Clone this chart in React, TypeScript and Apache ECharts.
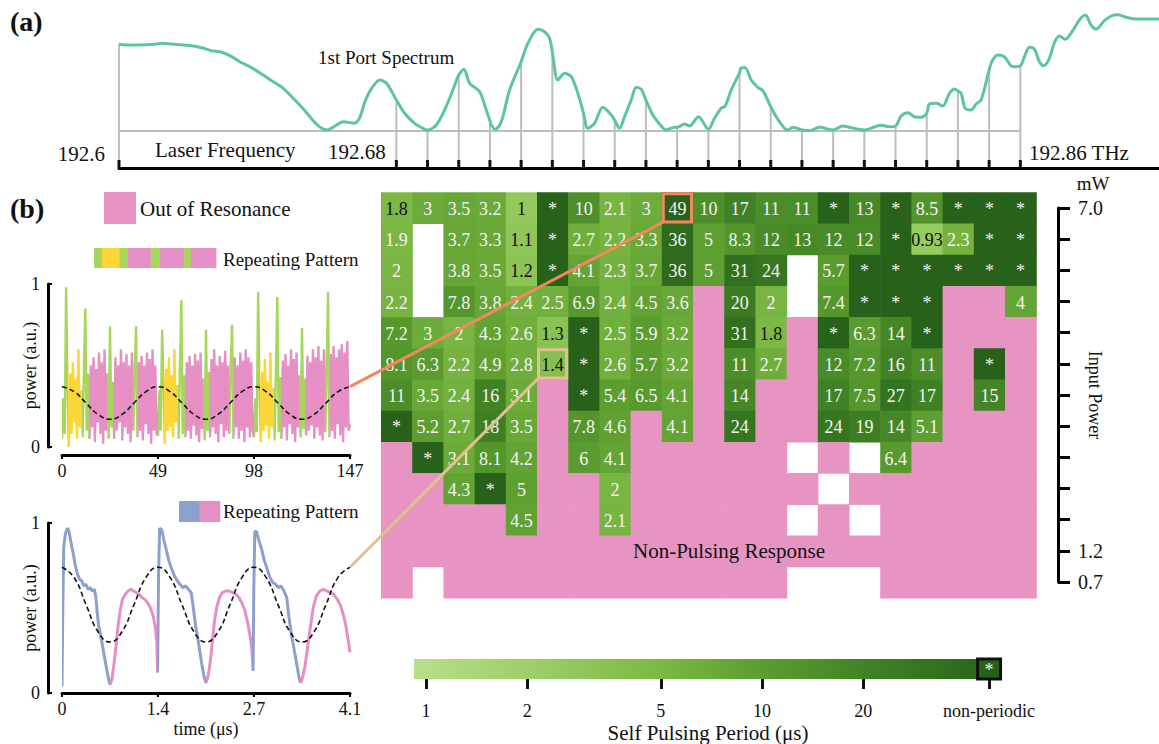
import React, { useEffect, useRef } from 'react';
import * as echarts from 'echarts';

const SERIF = 'Liberation Serif';

// palette
const GREEN = '#a6d65b';
const YELLOW = '#fdd535';
const PINK = '#e68fc4';
const BLUE = '#8c9fcd';
const NON_PULSING_COLOR = '#e794c3';
const NON_PERIODIC_COLOR = '#27611a';
const TEAL = '#5dc4a1';
const ORANGE = '#f4875f';
const TAN = '#e2c190';
const GRID_GRAY = '#bdbdbd';

// ---------- (a) first port spectrum ----------
const specFreq = [
  192.6, 192.60173, 192.60557, 192.61038, 192.61231, 192.61615, 192.62096, 192.62385, 192.62673, 192.62961,
  192.6325, 192.63538, 192.63777, 192.64115, 192.64403, 192.64738, 192.65075, 192.65363, 192.65603, 192.65845,
  192.66018, 192.66228, 192.66468, 192.66785, 192.66949, 192.67093, 192.67287, 192.67526, 192.67719, 192.68,
  192.68239, 192.68528, 192.68816, 192.689, 192.69153, 192.69393, 192.69632, 192.698, 192.69949, 192.70114,
  192.70402, 192.70595, 192.707, 192.70739, 192.70855, 192.71028, 192.71267, 192.716, 192.71795, 192.72083,
  192.72276, 192.7242, 192.725, 192.7266, 192.72853, 192.73046, 192.73236, 192.734, 192.73525, 192.73718,
  192.73957, 192.742, 192.743, 192.74439, 192.74583, 192.74776, 192.7492, 192.75065, 192.752, 192.75399,
  192.75592, 192.75785, 192.76025, 192.761, 192.76313, 192.76457, 192.76717, 192.77, 192.77178, 192.77371,
  192.77487, 192.7766, 192.779, 192.77948, 192.78063, 192.78236, 192.78427, 192.78571, 192.788, 192.79003,
  192.79197, 192.79292, 192.79436, 192.797, 192.79918, 192.80206, 192.806, 192.80878, 192.8112, 192.815,
  192.81985, 192.82225, 192.824, 192.82562, 192.82752, 192.82945, 192.83138, 192.833, 192.83378, 192.83571,
  192.83761, 192.83955, 192.84099, 192.842, 192.84292, 192.84407, 192.8458, 192.84724, 192.84869, 192.851,
  192.85186, 192.85347, 192.8554, 192.8578, 192.86, 192.86117, 192.86261, 192.86405, 192.8655, 192.86674,
  192.86838, 192.86982, 192.87126, 192.87291, 192.8751, 192.87703, 192.87876, 192.8804, 192.88185, 192.88424,
  192.88617, 192.88807, 192.89001, 192.8924, 192.89577, 192.9,
];
const specLevel = [
  8.7, 8.6, 8.6, 8.67, 8.77, 8.67, 8.53, 8.33, 8.03, 7.87,
  7.43, 6.83, 6.43, 5.7, 5.03, 4.27, 3.1, 2.03, 1.03, 0.27,
  0.1, 0.5, 0.93, 0.77, 1.37, 2.93, 4.27, 5.1, 4.77, 3.1,
  1.77, 0.77, 0.17, 0.1, 0.6, 2.1, 4.1, 5.6, 6.17, 4.77,
  3.93, 2.1, 1.02, 0.6, 0.17, 0.93, 4.1, 6.93, 8.77, 10.17,
  9.93, 9.27, 7.9, 5.1, 5.77, 5.43, 3.77, 1.77, 0.27, 0.77,
  2.37, 1.6, 1.07, 0.27, 1.43, 3.1, 4.37, 4.17, 3.1, 1.6,
  0.7, 0.1, 0.37, 0.37, 0.7, 0.5, 1.43, 0.17, 1.27, 2.27,
  2.5, 4.1, 5.83, 6.33, 6.33, 5.1, 4.37, 4.03, 2.43, 1.17,
  0.27, 0.1, 0.37, 0.1, 0.03, 0.37, 0.1, 0.5, 0.33, 0.1,
  0.57, 0.43, 0.5, 1.5, 1.83, 1.43, 1.37, 1.77, 2.7, 2.77,
  2.5, 3.77, 4.2, 4.0, 3.77, 2.27, 2.1, 2.7, 3.1, 6.1,
  7.0, 7.6, 7.43, 6.43, 6.53, 7.43, 8.37, 8.2, 6.93, 6.53,
  7.27, 8.83, 9.5, 9.17, 10.03, 11.1, 11.6, 10.6, 10.2, 11.03,
  11.5, 11.63, 11.43, 11.23, 11.2, 11.2,
];
// laser frequencies used for the self-pulsing sweep (THz)
const laserTicks = [
  192.6, 192.68, 192.689, 192.698, 192.707, 192.716, 192.725, 192.734, 192.743, 192.752, 192.761,
  192.77, 192.779, 192.788, 192.797, 192.806, 192.815, 192.824, 192.833, 192.842, 192.851, 192.86,
];
const specBaseline = 0;
const specFreqRange = [192.6, 192.9];
const specLevelRange = [-3.7, 12.1];

// ---------- (b) self-pulsing period map (μs) ----------
const NP = 'n'; // non-pulsing response
const ST = '*'; // non-periodic
const NA = ''; // not recorded
const periodRows: (number | string)[][] = [
  [1.8, 3, 3.5, 3.2, 1, ST, 10, 2.1, 3, 49, 10, 17, 11, 11, ST, 13, ST, 8.5, ST, ST, ST],
  [1.9, NA, 3.7, 3.3, 1.1, ST, 2.7, 2.2, 3.3, 36, 5, 8.3, 12, 13, 12, 12, ST, 0.93, 2.3, ST, ST],
  [2, NA, 3.8, 3.5, 1.2, ST, 4.1, 2.3, 3.7, 36, 5, 31, 24, NA, 5.7, ST, ST, ST, ST, ST, ST],
  [2.2, NA, 7.8, 3.8, 2.4, 2.5, 6.9, 2.4, 4.5, 3.6, NP, 20, 2, NA, 7.4, ST, ST, ST, NP, NP, 4],
  [7.2, 3, 2, 4.3, 2.6, 1.3, ST, 2.5, 5.9, 3.2, NP, 31, 1.8, NP, ST, 6.3, 14, ST, NP, NP, NP],
  [8.1, 6.3, 2.2, 4.9, 2.8, 1.4, ST, 2.6, 5.7, 3.2, NP, 11, 2.7, NP, 12, 7.2, 16, 11, NP, ST, NP],
  [11, 3.5, 2.4, 16, 3.1, NP, ST, 5.4, 6.5, 4.1, NP, 14, NP, NP, 17, 7.5, 27, 17, NP, 15, NP],
  [ST, 5.2, 2.7, 18, 3.5, NP, 7.8, 4.6, NP, 4.1, NP, 24, NP, NP, 24, 19, 14, 5.1, NP, NP, NP],
  [NP, ST, 3.1, 8.1, 4.2, NP, 6, 4.1, NP, NP, NP, NP, NP, NA, NP, NA, 6.4, NP, NP, NP, NP],
  [NP, NP, 4.3, ST, 5, NP, NP, 2, NP, NP, NP, NP, NP, NP, NA, NP, NP, NP, NP, NP, NP],
  [NP, NP, NP, NP, 4.5, NP, NP, 2.1, NP, NP, NP, NP, NP, NA, NP, NA, NP, NP, NP, NP, NP],
  [NP, NP, NP, NP, NP, NP, NP, NP, NP, NP, NP, NP, NP, NP, NP, NP, NP, NP, NP, NP, NP],
  [NP, NA, NP, NP, NP, NP, NP, NP, NP, NP, NP, NP, NP, NA, NA, NA, NP, NP, NP, NP, NP],
];
const powerLabels = ['7.0', '', '', '', '', '', '', '', '', '', '', '1.2', '0.7'];
const highlightCells = [
  { col: 9, row: 0, color: ORANGE },
  { col: 5, row: 5, color: TAN },
];

// cell colour ramp (period μs -> colour), interpolated in log period
const cellStops: [number, string][] = [
  [0.93, '#96cb5f'], [1.2, '#8cc456'], [1.8, '#7cb844'], [2.5, '#72b03e'], [3.5, '#68a837'],
  [5, '#5e9f31'], [8, '#53962b'], [12, '#498b28'], [18, '#3e7f24'], [27, '#347320'],
  [36, '#2f6a1d'], [49, '#2a621a'],
];
// colour bar ramp
const barStops: [number, string][] = [
  [0.921, '#b8df8b'], [2, '#9dcf6a'], [5, '#7bb942'], [10, '#5c9d30'], [20, '#418326'], [43.5, '#2b681b'],
];
const barTickPeriods = [1, 2, 5, 10, 20];
const barTickLabels = ['1', '2', '5', '10', '20', 'non-periodic'];
const nonPeriodicSlot = 47.4;
const barAxisLog = [-0.0357, 1.7143];

// ---------- fast self-pulsing trace (period 49) ----------
const fastStep = 0.7;
const fastPeriod = 49;
const fastCycle1 = [
  0.05, 0.3, 0.08, 0.98, 0.4,
  0.0, 0.45, 0.08, 0.52, 0.15, 0.42, 0.05, 0.6, 0.12, 0.35,
  0.06, 0.47, 0.85, 0.1, 0.45,
  0.05, 0.5, 0.12, 0.55, 0.03, 0.48, 0.15, 0.58, 0.08, 0.52, 0.02, 0.6, 0.1,
  0.45, 0.05, 0.74, 0.12, 0.4,
  0.05, 0.55, 0.1, 0.5, 0.15, 0.6, 0.04, 0.52, 0.12, 0.57, 0.08, 0.5, 0.03, 0.58,
  0.1, 0.46, 0.74, 0.06,
  0.52, 0.1, 0.56, 0.04, 0.5, 0.14, 0.58, 0.08, 0.54, 0.02, 0.6, 0.1, 0.5, 0.08,
];
const fastCycle2 = [
  0.07, 0.35, 0.1, 0.72, 0.42,
  0.02, 0.48, 0.1, 0.55, 0.12, 0.44, 0.06, 0.6, 0.15, 0.38,
  0.05, 0.5, 0.9, 0.08, 0.44,
  0.06, 0.52, 0.1, 0.56, 0.05, 0.5, 0.13, 0.57, 0.07, 0.53, 0.03, 0.58, 0.11,
  0.42, 0.04, 0.72, 0.1, 0.46,
  0.06, 0.54, 0.12, 0.6, 0.08, 0.5, 0.03, 0.56, 0.14, 0.52, 0.06, 0.59, 0.1, 0.5,
  0.08, 0.5, 0.75, 0.05,
  0.55, 0.12, 0.5, 0.05, 0.58, 0.1, 0.53, 0.03, 0.6, 0.12, 0.55, 0.06, 0.52, 0.1,
];
const fastCycle3 = [
  0.06, 0.3, 0.09, 0.95, 0.4,
  0.03, 0.46, 0.1, 0.54, 0.13, 0.4, 0.05, 0.58, 0.12, 0.36,
  0.04, 0.48, 0.92, 0.09, 0.43,
  0.05, 0.53, 0.12, 0.57, 0.04, 0.5, 0.14, 0.6, 0.08, 0.54, 0.03, 0.58, 0.12,
  0.44, 0.06, 0.73, 0.11, 0.42,
  0.07, 0.56, 0.1, 0.52, 0.13, 0.6, 0.05, 0.55, 0.12, 0.62, 0.07, 0.53, 0.04, 0.6,
  0.09, 0.48, 0.95, 0.06,
  0.57, 0.1, 0.62, 0.05, 0.55, 0.14, 0.6, 0.07, 0.63, 0.03, 0.58, 0.12, 0.65, 0.1,
];
const fastTail = [0.14];
// colour sections of one repeating pattern (time units within a period)
const fastPattern = [
  { from: 0, to: 3.15, color: GREEN },
  { from: 3.15, to: 10.15, color: YELLOW },
  { from: 10.15, to: 13.65, color: GREEN },
  { from: 13.65, to: 22.75, color: PINK },
  { from: 22.75, to: 26.25, color: GREEN },
  { from: 26.25, to: 36.05, color: PINK },
  { from: 36.05, to: 38.85, color: GREEN },
  { from: 38.85, to: 49, color: PINK },
];
const fastTicks = [0, 49, 98, 147];
const fastDriveT = [0, 6.125, 12.25, 18.375, 24.5, 30.625, 36.75, 42.875, 49, 55.125, 61.25, 67.375, 73.5,
  79.625, 85.75, 91.875, 98, 104.125, 110.25, 116.375, 122.5, 128.625, 134.75, 140.875, 147];
const fastDriveV = [0.37, 0.34, 0.27, 0.2, 0.17, 0.2, 0.27, 0.34, 0.37, 0.34, 0.27, 0.2, 0.17, 0.2, 0.27, 0.34,
  0.37, 0.34, 0.27, 0.2, 0.17, 0.2, 0.27, 0.34, 0.37];

// ---------- slow self-pulsing trace (μs) ----------
const slowT = [
  0, 0.01, 0.025, 0.05, 0.08, 0.1, 0.13, 0.16, 0.19, 0.22, 0.25, 0.28, 0.31, 0.34, 0.37, 0.4, 0.43, 0.46, 0.48,
  0.5, 0.52, 0.55, 0.58, 0.61, 0.64, 0.67, 0.685, 0.71, 0.74, 0.77, 0.8, 0.83, 0.86, 0.9, 0.94, 0.98, 1.02,
  1.06, 1.1, 1.14, 1.18, 1.22, 1.26, 1.3, 1.33, 1.35, 1.36, 1.375, 1.39, 1.42, 1.45, 1.48, 1.52, 1.56, 1.6,
  1.64, 1.68, 1.72, 1.76, 1.8, 1.84, 1.87, 1.9, 1.93, 1.96, 1.99, 2.02, 2.05, 2.08, 2.11, 2.14, 2.17, 2.2,
  2.24, 2.28, 2.33, 2.38, 2.43, 2.48, 2.52, 2.56, 2.6, 2.64, 2.68, 2.705, 2.72, 2.73, 2.745, 2.77, 2.8, 2.84,
  2.88, 2.92, 2.96, 3.0, 3.04, 3.08, 3.12, 3.16, 3.2, 3.23, 3.26, 3.29, 3.32, 3.35, 3.38, 3.4, 3.43, 3.46,
  3.5, 3.54, 3.58, 3.62, 3.67, 3.72, 3.77, 3.82, 3.87, 3.92, 3.96, 4.0, 4.04, 4.07, 4.1,
];
const slowV = [
  0.04, 0.45, 0.86, 0.94, 0.97, 0.95, 0.88, 0.82, 0.75, 0.7, 0.67, 0.66, 0.63, 0.64, 0.61, 0.62, 0.6, 0.61, 0.57,
  0.48, 0.4, 0.34, 0.27, 0.2, 0.13, 0.07, 0.05, 0.08, 0.17, 0.28, 0.4, 0.49, 0.55, 0.58, 0.6, 0.61, 0.6,
  0.59, 0.58, 0.56, 0.55, 0.53, 0.5, 0.45, 0.38, 0.3, 0.12, 0.7, 0.97, 0.96, 0.9, 0.85, 0.78, 0.73, 0.69,
  0.66, 0.64, 0.62, 0.63, 0.61, 0.59, 0.5, 0.4, 0.33, 0.25, 0.17, 0.1, 0.06, 0.1, 0.18, 0.3, 0.42, 0.5,
  0.56, 0.59, 0.6, 0.6, 0.59, 0.58, 0.56, 0.53, 0.49, 0.42, 0.33, 0.24, 0.13, 0.6, 0.95, 0.95, 0.9, 0.85,
  0.78, 0.73, 0.68, 0.65, 0.64, 0.62, 0.63, 0.6, 0.56, 0.45, 0.36, 0.29, 0.22, 0.15, 0.08, 0.06, 0.1, 0.16,
  0.28, 0.4, 0.51, 0.57, 0.6, 0.61, 0.6, 0.59, 0.58, 0.55, 0.52, 0.47, 0.4, 0.32, 0.24,
];
const slowSections = [
  { from: 0, to: 0.68, color: BLUE },
  { from: 0.68, to: 1.355, color: PINK },
  { from: 1.355, to: 2.05, color: BLUE },
  { from: 2.05, to: 2.71, color: PINK },
  { from: 2.71, to: 3.39, color: BLUE },
  { from: 3.39, to: 4.2, color: PINK },
];
const slowLegend = [BLUE, PINK];
const slowTicks = [0, 1.3667, 2.7333, 4.1];
const slowDriveT = [0, 0.171, 0.342, 0.513, 0.683, 0.854, 1.025, 1.196, 1.367, 1.538, 1.708, 1.879, 2.05,
  2.221, 2.392, 2.563, 2.733, 2.904, 3.075, 3.246, 3.417, 3.588, 3.758, 3.929, 4.1];
const slowDriveV = [0.74, 0.68, 0.52, 0.36, 0.3, 0.36, 0.52, 0.68, 0.74, 0.68, 0.52, 0.36, 0.3, 0.36, 0.52, 0.68,
  0.74, 0.68, 0.52, 0.36, 0.3, 0.36, 0.52, 0.68, 0.74];

// ---------- helpers ----------
function hexToRgb(h: string) {
  const n = parseInt(h.slice(1), 16);
  return [(n >> 16) & 255, (n >> 8) & 255, n & 255];
}
function mix(a: string, b: string, t: number) {
  const A = hexToRgb(a), B = hexToRgb(b);
  const c = A.map((v, i) => Math.round(v + (B[i] - v) * t));
  return `rgb(${c[0]},${c[1]},${c[2]})`;
}
function periodColor(v: number) {
  if (v <= cellStops[0][0]) return cellStops[0][1];
  for (let i = 1; i < cellStops.length; i++) {
    if (v <= cellStops[i][0]) {
      const [v0, c0] = cellStops[i - 1];
      const [v1, c1] = cellStops[i];
      const t = (Math.log10(v) - Math.log10(v0)) / (Math.log10(v1) - Math.log10(v0));
      return mix(c0, c1, t);
    }
  }
  return cellStops[cellStops.length - 1][1];
}
function cellFill(v: number | string) {
  if (v === NP) return NON_PULSING_COLOR;
  if (v === ST) return NON_PERIODIC_COLOR;
  if (v === NA) return null;
  return periodColor(v as number);
}

const heatCells = periodRows.flatMap((r, row) => r.map((v, col) => ({ col, row, v })));
const fastValues = [...fastCycle1, ...fastCycle2, ...fastCycle3, ...fastTail];
const fastData = fastValues.map((v, i) => [i * fastStep, v]);
const fastPieces = [0, 1, 2].flatMap((c) =>
  fastPattern.map((p, k) => ({
    gte: c * fastPeriod + p.from,
    lt: c === 2 && k === fastPattern.length - 1 ? 148 : c * fastPeriod + p.to,
    color: p.color,
  })),
);
const slowPieces = slowSections.map((s) => ({ gte: s.from, lt: s.to, color: s.color }));
const specData = specFreq.map((f, i) => [f, specLevel[i]]);
const tickData = laserTicks.map((f) => {
  const i = specFreq.findIndex((g) => Math.abs(g - f) < 1e-7);
  return [f, specLevel[i]];
});
const barTickPos = [...barTickPeriods.map((p) => Math.log10(p)), Math.log10(nonPeriodicSlot)];

function txt(text: string, x: number, y: number, size: number, extra: any = {}) {
  return {
    type: 'text',
    x,
    y,
    z: 20,
    style: {
      text,
      fontSize: size,
      fontFamily: SERIF,
      fill: '#111',
      align: 'left',
      verticalAlign: 'middle',
      ...extra,
    },
  };
}

function baseGraphics() {
  const g: any[] = [];
  g.push(txt('(a)', 10, 21, 28, { fontWeight: 'bold' }));
  g.push(txt('(b)', 10, 208, 28, { fontWeight: 'bold' }));
  g.push(txt('1st Port Spectrum', 318, 57, 19));
  g.push(txt('Laser Frequency', 155, 150, 21));
  g.push(txt('192.6', 105, 154, 21, { align: 'right' }));
  g.push(txt('192.68', 328, 152, 21));
  g.push(txt('192.86 THz', 1029, 153, 21));
  // legend: out of resonance
  g.push({ type: 'rect', shape: { x: 104, y: 192, width: 32, height: 32 }, style: { fill: NON_PULSING_COLOR }, z: 20 });
  g.push(txt('Out of Resonance', 140, 209, 21));
  // legend: repeating pattern of the fast trace
  const fullW = 122;
  fastPattern.forEach((p) => {
    g.push({
      type: 'rect',
      shape: { x: 94 + (p.from / fastPeriod) * fullW, y: 248, width: ((p.to - p.from) / fastPeriod) * fullW + 0.4, height: 20 },
      style: { fill: p.color },
      z: 20,
    });
  });
  g.push(txt('Repeating Pattern', 223, 259, 19));
  // legend: repeating pattern of the slow trace
  slowLegend.forEach((c, i) => {
    g.push({ type: 'rect', shape: { x: 179 + i * 20.5, y: 501, width: 20.9, height: 21 }, style: { fill: c }, z: 20 });
  });
  g.push(txt('Repeating Pattern', 223, 511, 19));
  g.push(txt('Non-Pulsing Response', 729, 551, 21, { align: 'center' }));
  g.push(txt('mW', 1093, 183, 19, { align: 'center' }));
  return g;
}

function buildOption(extraGraphics: any[]) {
  const axisLineBlack = { show: true, onZero: false, lineStyle: { color: '#000', width: 3 } };
  const labelStyle = { color: '#111', fontSize: 18, fontFamily: SERIF };
  return {
    animation: false,
    backgroundColor: '#fff',
    textStyle: { fontFamily: SERIF },
    grid: [
      { left: 119, top: 10, width: 1040, height: 158 },
      { left: 381, top: 192.3, width: 655.2, height: 405.6 },
      { left: 1040, top: 208, width: 18, height: 374 },
      { left: 62, top: 284, width: 288, height: 163 },
      { left: 62, top: 523, width: 288, height: 170 },
      { left: 414, top: 659, width: 588, height: 23 },
    ],
    xAxis: [
      {
        gridIndex: 0, type: 'value', min: specFreqRange[0], max: specFreqRange[1],
        axisLine: axisLineBlack, axisTick: { show: false }, axisLabel: { show: false }, splitLine: { show: false },
      },
      {
        gridIndex: 1, type: 'category', data: periodRows[0].map((_, i) => String(i)), show: false,
      },
      { gridIndex: 2, type: 'value', show: false },
      {
        gridIndex: 3, type: 'value', min: 0, max: 147, interval: 49, offset: 8,
        axisLine: axisLineBlack, axisTick: { show: true, length: 4, lineStyle: { width: 2, color: '#000' } },
        axisLabel: { ...labelStyle, margin: 7, formatter: (v: number) => (fastTicks.includes(v) ? String(v) : '') },
        splitLine: { show: false },
      },
      {
        gridIndex: 4, type: 'value', min: 0, max: 4.1,
        axisLine: axisLineBlack,
        axisTick: { show: true, length: 4, customValues: slowTicks, lineStyle: { width: 2, color: '#000' } },
        axisLabel: {
          ...labelStyle, margin: 7, customValues: slowTicks,
          formatter: (v: number) => (v === 0 ? '0' : v.toFixed(1)),
        },
        splitLine: { show: false },
        name: 'time (μs)', nameLocation: 'middle', nameGap: 27, nameMoveOverlap: false,
        nameTextStyle: { color: '#111', fontSize: 18, fontFamily: SERIF },
      },
      {
        gridIndex: 5, type: 'value', min: barAxisLog[0], max: barAxisLog[1], offset: 3,
        axisLine: { show: false },
        axisTick: { show: true, length: 10, customValues: barTickPos, lineStyle: { width: 3, color: '#111' } },
        axisLabel: {
          ...labelStyle, margin: 20, customValues: barTickPos,
          formatter: (v: number) => {
            const i = barTickPos.findIndex((p) => Math.abs(p - v) < 1e-6);
            return i >= 0 ? barTickLabels[i] : '';
          },
        },
        splitLine: { show: false },
        name: 'Self Pulsing Period (μs)', nameLocation: 'middle', nameGap: 40, nameMoveOverlap: false,
        nameTextStyle: { color: '#111', fontSize: 21, fontFamily: SERIF },
      },
    ],
    yAxis: [
      { gridIndex: 0, type: 'value', min: specLevelRange[0], max: specLevelRange[1], show: false },
      { gridIndex: 1, type: 'category', data: periodRows.map((_, i) => String(i)), inverse: true, show: false },
      {
        gridIndex: 2, type: 'value', min: 0, max: 12, interval: 1, position: 'right',
        axisLine: axisLineBlack,
        axisTick: { show: true, inside: false, length: 12, lineStyle: { width: 3, color: '#000' } },
        axisLabel: { color: '#111', fontSize: 20, fontFamily: SERIF, margin: 20, formatter: (v: number) => powerLabels[12 - v] ?? '' },
        splitLine: { show: false },
        name: 'Input Power', nameLocation: 'middle', nameRotate: -90, nameGap: 28, nameMoveOverlap: false,
        nameTextStyle: { color: '#111', fontSize: 18, fontFamily: SERIF },
      },
      {
        gridIndex: 3, type: 'value', min: 0, max: 1, interval: 1, offset: 14,
        axisLine: axisLineBlack,
        axisTick: { show: true, inside: true, length: 4, lineStyle: { width: 2, color: '#000' } },
        axisLabel: { ...labelStyle, margin: 8 },
        splitLine: { show: false },
        name: 'power (a.u.)', nameLocation: 'middle', nameRotate: 90, nameGap: 9, nameMoveOverlap: false,
        nameTextStyle: { color: '#111', fontSize: 18, fontFamily: SERIF },
      },
      {
        gridIndex: 4, type: 'value', min: 0, max: 1, interval: 1, offset: 14,
        axisLine: axisLineBlack,
        axisTick: { show: true, inside: true, length: 4, lineStyle: { width: 2, color: '#000' } },
        axisLabel: { ...labelStyle, margin: 8 },
        splitLine: { show: false },
        name: 'power (a.u.)', nameLocation: 'middle', nameRotate: 90, nameGap: 9, nameMoveOverlap: false,
        nameTextStyle: { color: '#111', fontSize: 18, fontFamily: SERIF },
      },
      { gridIndex: 5, type: 'value', min: 0, max: 1, show: false },
    ],
    visualMap: [
      { type: 'piecewise', show: false, dimension: 0, seriesIndex: 5, pieces: fastPieces },
      { type: 'piecewise', show: false, dimension: 0, seriesIndex: 7, pieces: slowPieces },
    ],
    series: [
      {
        type: 'line', xAxisIndex: 0, yAxisIndex: 0, z: 1, symbol: 'none', silent: true,
        data: [[laserTicks[0], specBaseline], [laserTicks[laserTicks.length - 1], specBaseline]],
        lineStyle: { color: GRID_GRAY, width: 2 },
      },
      {
        type: 'custom', xAxisIndex: 0, yAxisIndex: 0, z: 2, silent: true, clip: false,
        data: tickData,
        renderItem: (params: any, api: any) => {
          const p = api.coord([api.value(0), api.value(1)]);
          const cs = params.coordSys;
          const bottom = cs.y + cs.height;
          return {
            type: 'group',
            children: [
              { type: 'line', shape: { x1: p[0], y1: p[1], x2: p[0], y2: bottom }, style: { stroke: GRID_GRAY, lineWidth: 2 } },
              { type: 'line', shape: { x1: p[0], y1: bottom - 8, x2: p[0], y2: bottom }, style: { stroke: '#111', lineWidth: 3 } },
            ],
          };
        },
      },
      {
        type: 'line', xAxisIndex: 0, yAxisIndex: 0, z: 3, symbol: 'none', smooth: 0.3, silent: true,
        data: specData, lineStyle: { color: TEAL, width: 3 },
      },
      {
        type: 'custom', xAxisIndex: 1, yAxisIndex: 1, z: 2, silent: true,
        data: heatCells.map((c, i) => [c.col, c.row, i]),
        renderItem: (params: any, api: any) => {
          const cell = heatCells[api.value(2)];
          const fill = cellFill(cell.v);
          if (!fill) return null;
          const c = api.coord([api.value(0), api.value(1)]);
          const s = api.size([1, 1]);
          const children: any[] = [
            { type: 'rect', shape: { x: c[0] - s[0] / 2, y: c[1] - s[1] / 2, width: s[0] + 0.6, height: s[1] + 0.6 }, style: { fill } },
          ];
          if (cell.v !== NP) {
            const dark = typeof cell.v === 'number' && cell.v < 1.85;
            children.push({
              type: 'text', x: c[0], y: c[1] + 1, z2: 5,
              style: {
                text: String(cell.v), fill: dark ? '#111' : '#f4f4f4', fontSize: 18, fontFamily: SERIF,
                align: 'center', verticalAlign: 'middle',
              },
            });
          }
          return { type: 'group', children };
        },
      },
      {
        type: 'custom', xAxisIndex: 1, yAxisIndex: 1, z: 6, silent: true,
        data: highlightCells.map((h, i) => [h.col, h.row, i]),
        renderItem: (params: any, api: any) => {
          const h = highlightCells[api.value(2)];
          const c = api.coord([api.value(0), api.value(1)]);
          const s = api.size([1, 1]);
          return {
            type: 'rect',
            shape: { x: c[0] - s[0] / 2 + 1.5, y: c[1] - s[1] / 2 + 1.5, width: s[0] - 3, height: s[1] - 3 },
            style: { fill: 'none', stroke: h.color, lineWidth: 3 },
          };
        },
      },
      {
        type: 'line', xAxisIndex: 3, yAxisIndex: 3, z: 3, symbol: 'none', silent: true,
        data: fastData, lineStyle: { width: 2.4 },
      },
      {
        type: 'line', xAxisIndex: 3, yAxisIndex: 3, z: 4, symbol: 'none', smooth: true, silent: true,
        data: fastDriveT.map((t, i) => [t, fastDriveV[i]]),
        lineStyle: { color: '#111', width: 1.6, type: [5, 3] },
      },
      {
        type: 'line', xAxisIndex: 4, yAxisIndex: 4, z: 3, symbol: 'none', silent: true,
        data: slowT.map((t, i) => [t, slowV[i]]), lineStyle: { width: 3 },
      },
      {
        type: 'line', xAxisIndex: 4, yAxisIndex: 4, z: 4, symbol: 'none', smooth: true, silent: true,
        data: slowDriveT.map((t, i) => [t, slowDriveV[i]]),
        lineStyle: { color: '#111', width: 1.6, type: [5, 3] },
      },
      {
        type: 'custom', xAxisIndex: 5, yAxisIndex: 5, z: 2, silent: true, clip: false,
        data: [[0, 0]],
        renderItem: (params: any, api: any) => {
          const lo = Math.log10(barStops[0][0]);
          const hi = Math.log10(barStops[barStops.length - 1][0]);
          const a = api.coord([lo, 1]);
          const b = api.coord([hi, 0]);
          const star = api.coord([Math.log10(nonPeriodicSlot), 0.5]);
          const h = b[1] - a[1];
          const grad = new echarts.graphic.LinearGradient(0, 0, 1, 0,
            barStops.map(([v, color]) => ({ offset: (Math.log10(v) - lo) / (hi - lo), color })));
          return {
            type: 'group',
            children: [
              { type: 'rect', shape: { x: a[0], y: a[1], width: b[0] - a[0], height: h }, style: { fill: grad } },
              {
                type: 'rect', shape: { x: star[0] - 11.5, y: a[1], width: 23, height: h },
                style: { fill: NON_PERIODIC_COLOR, stroke: '#111', lineWidth: 3 },
              },
              {
                type: 'text', x: star[0], y: star[1] + 1,
                style: { text: '*', fill: '#f4f4f4', fontSize: 18, fontFamily: SERIF, align: 'center', verticalAlign: 'middle' },
              },
            ],
          };
        },
      },
    ],
    graphic: [...baseGraphics(), ...extraGraphics],
  };
}

function connectorGraphics(chart: any) {
  const out: any[] = [];
  const links = [
    { grid: 3, point: [fastDriveT[fastDriveT.length - 1], fastDriveV[fastDriveV.length - 1]], cell: highlightCells[0] },
    { grid: 4, point: [slowDriveT[slowDriveT.length - 1], slowDriveV[slowDriveV.length - 1]], cell: highlightCells[1] },
  ];
  links.forEach((l) => {
    const from = chart.convertToPixel({ gridIndex: l.grid }, l.point);
    const c0 = chart.convertToPixel({ gridIndex: 1 }, [l.cell.col, l.cell.row]);
    const c1 = chart.convertToPixel({ gridIndex: 1 }, [l.cell.col + 1, l.cell.row + 1]);
    const w = c1[0] - c0[0];
    const h = c1[1] - c0[1];
    const to = [c0[0] - w / 2 + 1.5, c0[1] + h / 2 - 1.5];
    out.push({
      type: 'line', z: 15, silent: true,
      shape: { x1: from[0], y1: from[1], x2: to[0], y2: to[1] },
      style: { stroke: l.cell.color, lineWidth: 3 },
    });
  });
  return out;
}

export default function App() {
  const ref = useRef<HTMLDivElement>(null);
  useEffect(() => {
    const el = ref.current;
    if (!el) return;
    const chart = echarts.init(el, undefined, { renderer: 'svg' });
    chart.setOption(buildOption([]) as any);
    const links = connectorGraphics(chart);
    chart.setOption(buildOption(links) as any, { notMerge: true });
    return () => chart.dispose();
  }, []);
  return (
    <div
      ref={ref}
      style={{ position: 'absolute', left: 0, top: 0, width: 1159, height: 744, background: '#fff' }}
    />
  );
}
